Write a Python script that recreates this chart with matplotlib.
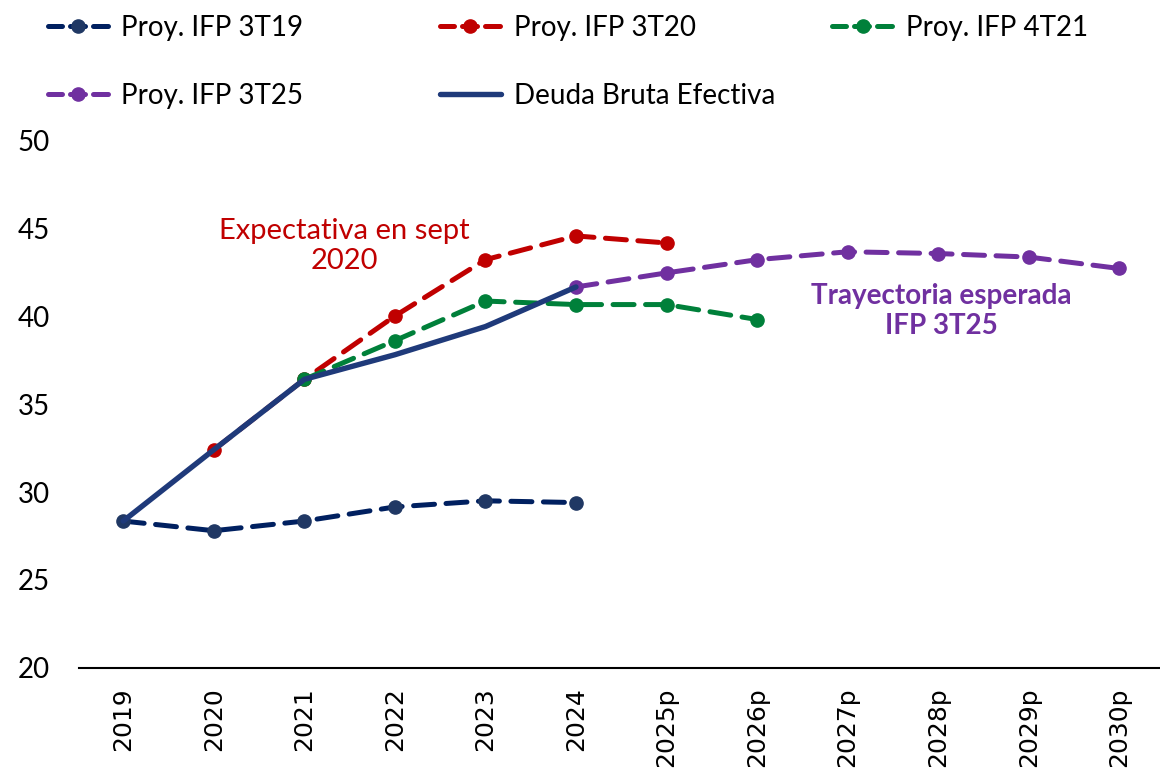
import matplotlib
matplotlib.use("Agg")
import matplotlib.pyplot as plt
from matplotlib.lines import Line2D

years = ["2019", "2020", "2021", "2022", "2023", "2024", "2025p", "2026p",
         "2027p", "2028p", "2029p", "2030p"]

ifp_3t19 = [28.35, 27.8, 28.35, 29.15, 29.5, 29.4]
ifp_3t20 = [None, 32.4, 36.4, 40.0, 43.2, 44.55, 44.15]
ifp_4t21 = [None, None, 36.4, 38.6, 40.85, 40.65, 40.65, 39.8]
ifp_3t25 = [None, None, None, None, None, 41.65, 42.45, 43.2, 43.65, 43.55, 43.35, 42.7]
deuda = [28.35, 32.4, 36.4, 37.8, 39.4, 41.65]

plt.rcParams['font.family'] = ['Lato', 'DejaVu Sans']

fig = plt.figure(figsize=(11.6, 7.71), dpi=100)
ax = fig.add_axes([0.068, 0.1336, 0.932, 0.6848])

def xy(vals):
    xs = [i for i, v in enumerate(vals) if v is not None]
    ys = [v for v in vals if v is not None]
    return xs, ys

lw = 3.6
ms = 9.5
dash = (4.2, 2.3)
series = [
    (ifp_3t19, "#002060", "#203864", "Proy. IFP 3T19"),
    (ifp_3t20, "#C00000", "#C00000", "Proy. IFP 3T20"),
    (ifp_4t21, "#00803A", "#00803A", "Proy. IFP 4T21"),
    (ifp_3t25, "#7030A0", "#7030A0", "Proy. IFP 3T25"),
]
handles = {}
for vals, lc, mc, lab in series:
    xs, ys = xy(vals)
    ax.plot(xs, ys, color=lc, lw=lw, linestyle=(0, dash), marker='o',
            markersize=ms, markerfacecolor=mc, markeredgecolor=mc,
            dash_capstyle='round', zorder=3)
    handles[lab] = Line2D([], [], color=lc, lw=lw, linestyle=(0.2, (3.0, 1.6)),
                          marker='o', markersize=ms, markerfacecolor=mc,
                          markeredgecolor=mc, dash_capstyle='round')

xs, ys = xy(deuda)
ax.plot(xs, ys, color="#1F3A7A", lw=lw + 0.3, solid_capstyle='round', zorder=4)
handles["Deuda Bruta Efectiva"] = Line2D([], [], color="#1F3A7A", lw=lw + 0.3,
                                         solid_capstyle='round')

ax.set_xlim(-0.49, 11.45)
ax.set_ylim(20, 50)
ax.set_yticks([20, 25, 30, 35, 40, 45, 50])
ax.set_xticks(range(len(years)))
ax.set_xticklabels(years, rotation=90, fontsize=18, family=['DejaVu Sans'])
ax.tick_params(axis='y', labelsize=20, length=0, pad=44)
ax.tick_params(axis='x', length=0, pad=14)
for s in ['top', 'right', 'left']:
    ax.spines[s].set_visible(False)
ax.spines['bottom'].set_linewidth(1.5)
ax.spines['bottom'].set_color('black')
for t in ax.get_yticklabels():
    t.set_horizontalalignment('left')

ax.text(2.44, 44.0, "Expectativa en sept\n2020", color="#C00000", fontsize=21,
        ha='center', va='center', linespacing=1.2)
ax.text(9.03, 40.3, "Trayectoria esperada\nIFP 3T25", color="#7030A0", fontsize=20,
        fontweight='bold', ha='center', va='center', linespacing=1.2)

columns = [
    (0.0244, ["Proy. IFP 3T19", "Proy. IFP 3T25"]),
    (0.3625, ["Proy. IFP 3T20", "Deuda Bruta Efectiva"]),
    (0.7005, ["Proy. IFP 4T21"]),
]
for x0, labs in columns:
    fig.legend([handles[k] for k in labs], labs, loc='upper left',
               bbox_to_anchor=(x0, 1.006), frameon=False, fontsize=20,
               handlelength=2.2, labelspacing=1.52, handletextpad=0.45,
               borderaxespad=0.3)

fig.savefig("out.png", dpi=100)
